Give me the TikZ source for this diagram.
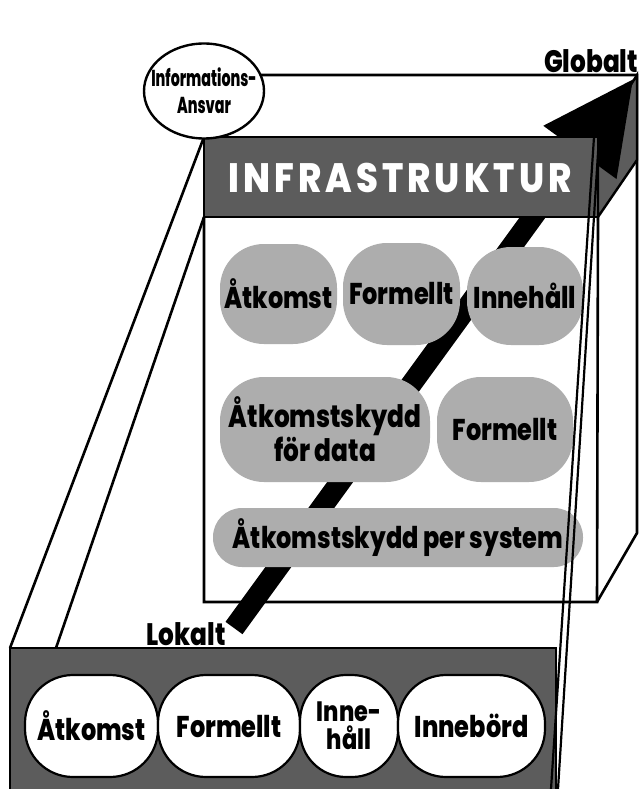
\documentclass[tikz,border=0pt]{standalone}
\usepackage{fontspec}
\setmainfont{Poppins}[FakeStretch=0.80, BoldFont={Poppins ExtraBold}]
\newfontfamily\headfont{Poppins}[FakeStretch=0.86, LetterSpace=10, BoldFont={Poppins ExtraBold}]
\newfontfamily\narrowfont{Poppins}[FakeStretch=0.62, BoldFont={Poppins ExtraBold}]
\usetikzlibrary{arrows.meta,shapes.geometric}

\definecolor{darktone}{gray}{0.36}
\definecolor{softtone}{gray}{0.68}

\tikzset{
  edge/.style={draw=black, line width=2.6pt},
  darkband/.style={fill=darktone, draw=black, line width=2.4pt},
  softbox/.style={fill=softtone, inner sep=0pt, align=center,
    font=\bfseries\fontsize{30}{31}\selectfont},
  whitebox/.style={fill=white, draw=black, line width=2.2pt, inner sep=0pt,
    align=center, minimum height=102pt, font=\bfseries\fontsize{30}{30}\selectfont},
  tag/.style={font=\bfseries\fontsize{31}{31}\selectfont, inner sep=0pt},
  headtext/.style={font=\headfont\bfseries\fontsize{41}{41}\selectfont, inner sep=0pt},
  bigarrow/.style={line width=21pt, draw=black,
    -{Triangle[length=92pt,width=84pt]}}
}

\begin{document}
\begin{tikzpicture}[x=1pt,y=-1pt]
\useasboundingbox (0,0) rectangle (639,789);
\fill[white] (0,0) rectangle (639,789);

% corners of the box
\coordinate (htl) at (204,137);
\coordinate (htr) at (598,137);
\coordinate (hbl) at (204,217);
\coordinate (hbr) at (598,217);
\coordinate (pbl) at (204,602);
\coordinate (pbr) at (597,602);
\coordinate (bkt) at (637,75);
\coordinate (bks) at (637,160);
\coordinate (bkb) at (637,533);
\coordinate (ftl) at (10,648);
\coordinate (ftm) at (56,648);
\coordinate (lokaltend) at (234,628);
\coordinate (globaltend) at (634,78);

% edges of the box
\draw[edge] (ftl) -- (htl);
\draw[edge] (ftm) -- (hbl);
\draw[edge] (204,75) -- (bkt) -- (bkb) -- (pbr);
\draw[edge] (hbl) -- (pbl) -- (pbr) -- (hbr);

% side of the header band
\filldraw[darkband] (htr) -- (bkt) -- (bks) -- (hbr) -- cycle;

% the arrow from local to global
\draw[bigarrow] (lokaltend) -- (globaltend);

% header band
\filldraw[darkband] (htl) rectangle (hbr);
\node[headtext, text=white] (header) at (400,178) {INFRASTRUKTUR};

% shaded items of the infrastructure
\node[softbox, minimum width=117pt, minimum height=100pt, rounded corners=44pt]
  (p1) at (278.5,294) {Åtkomst};
\node[softbox, minimum width=117pt, minimum height=102pt, rounded corners=44pt]
  (p2) at (401.5,294) {Formellt};
\node[softbox, minimum width=116pt, minimum height=98pt, rounded corners=44pt]
  (p3) at (525,296) {Innehåll};
\node[softbox, minimum width=210pt, minimum height=105pt, rounded corners=44pt,
  font=\bfseries\fontsize{31}{32}\selectfont]
  (p4) at (325,429.5) {Åtkomstskydd\\för data};
\node[softbox, minimum width=136pt, minimum height=105pt, rounded corners=44pt]
  (p5) at (505,429.5) {Formellt};
\node[softbox, minimum width=370pt, minimum height=59pt, rounded corners=29pt]
  (p6) at (398,537.5) {Åtkomstskydd per system};

% front band
\filldraw[darkband] (ftl) rectangle (556,800);
\node[whitebox, minimum width=133pt, rounded corners=48pt] (f1) at (91.5,726) {Åtkomst};
\node[whitebox, minimum width=142pt, rounded corners=48pt] (f2) at (229,726) {Formellt};
\node[whitebox, minimum width=98pt, rounded corners=46pt,
  font=\bfseries\fontsize{28}{28}\selectfont] (f3) at (349,726) {Inne-\\håll};
\node[whitebox, minimum width=147pt, rounded corners=48pt] (f4) at (471.5,726) {Innebörd};

% long edges on the right
\draw[edge, line width=2.2pt] (551,789) -- (594,137);
\draw[edge, line width=2.2pt] (558,789) -- (599,137);

% responsibility
\node[ellipse, draw=black, fill=white, line width=2.4pt, inner sep=0pt,
  minimum width=120pt, minimum height=95pt] (resp) at (204,91) {};
\node[align=center, inner sep=0pt,
  font=\narrowfont\bfseries\fontsize{23}{27}\selectfont] (resptext) at (resp.center)
  {Informations-\\Ansvar};

\node[tag] (globalt) at (591,61) {Globalt};
\node[tag] (lokalt) at (186,634) {Lokalt};
\end{tikzpicture}
\end{document}
